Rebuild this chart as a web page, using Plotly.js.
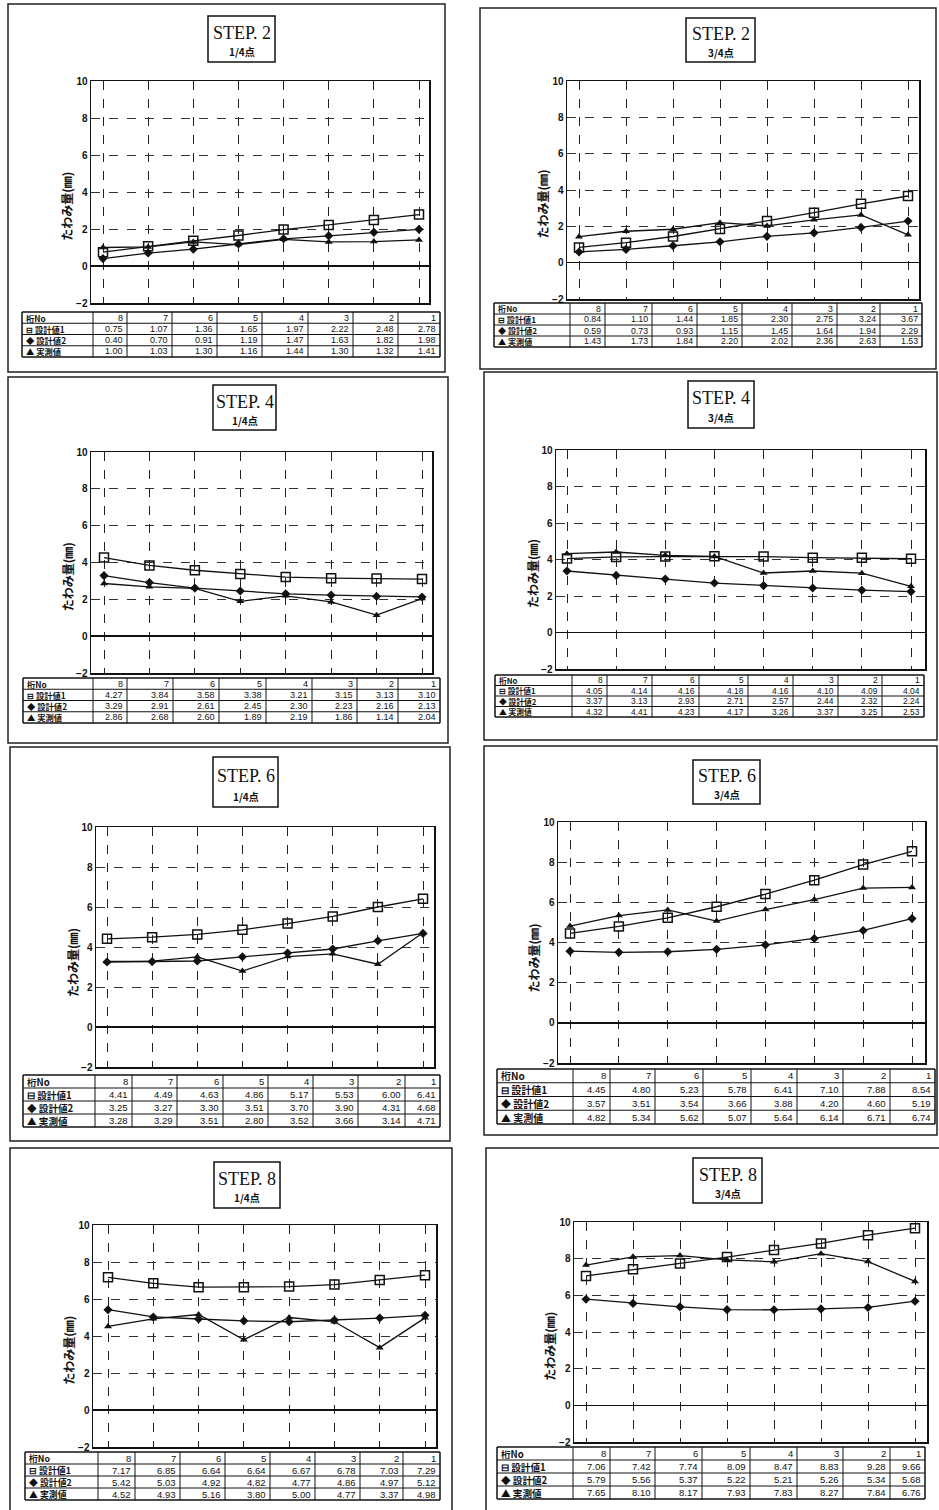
<!DOCTYPE html>
<html>
<head>
<meta charset="utf-8">
<script src="https://cdn.plot.ly/plotly-3.0.1.min.js"></script>
<style>html,body{margin:0;padding:0;background:#fff;}#chart{width:939px;height:1510px;}</style>
</head>
<body>
<div id="chart"></div>
<script>
// ---------- data ----------
const girders = ["8","7","6","5","4","3","2","1"];
const seriesNames = ["設計値1","設計値2","実測値"];
const rowLabels = ["⊟ 設計値1","◆ 設計値2","▲ 実測値"];
const headerFirst = "桁No";
const stepLabels = ["STEP. 2","STEP. 2","STEP. 4","STEP. 4","STEP. 6","STEP. 6","STEP. 8","STEP. 8"];
const pointLabels = ["1/4点","3/4点","1/4点","3/4点","1/4点","3/4点","1/4点","3/4点"];
const yTicks = [-2,0,2,4,6,8,10];
const yTitle = "たわみ量(㎜)";

const s2q1_d1 = [0.75,1.07,1.36,1.65,1.97,2.22,2.48,2.78];
const s2q1_d2 = [0.40,0.70,0.91,1.19,1.47,1.63,1.82,1.98];
const s2q1_m  = [1.00,1.03,1.30,1.16,1.44,1.30,1.32,1.41];

const s2q3_d1 = [0.84,1.10,1.44,1.85,2.30,2.75,3.24,3.67];
const s2q3_d2 = [0.59,0.73,0.93,1.15,1.45,1.64,1.94,2.29];
const s2q3_m  = [1.43,1.73,1.84,2.20,2.02,2.36,2.63,1.53];

const s4q1_d1 = [4.27,3.84,3.58,3.38,3.21,3.15,3.13,3.10];
const s4q1_d2 = [3.29,2.91,2.61,2.45,2.30,2.23,2.16,2.13];
const s4q1_m  = [2.86,2.68,2.60,1.89,2.19,1.86,1.14,2.04];

const s4q3_d1 = [4.05,4.14,4.16,4.18,4.16,4.10,4.09,4.04];
const s4q3_d2 = [3.37,3.13,2.93,2.71,2.57,2.44,2.32,2.24];
const s4q3_m  = [4.32,4.41,4.23,4.17,3.26,3.37,3.25,2.53];

const s6q1_d1 = [4.41,4.49,4.63,4.86,5.17,5.53,6.00,6.41];
const s6q1_d2 = [3.25,3.27,3.30,3.51,3.70,3.90,4.31,4.68];
const s6q1_m  = [3.28,3.29,3.51,2.80,3.52,3.66,3.14,4.71];

const s6q3_d1 = [4.45,4.80,5.23,5.78,6.41,7.10,7.88,8.54];
const s6q3_d2 = [3.57,3.51,3.54,3.66,3.88,4.20,4.60,5.19];
const s6q3_m  = [4.82,5.34,5.62,5.07,5.64,6.14,6.71,6.74];

const s8q1_d1 = [7.17,6.85,6.64,6.64,6.67,6.78,7.03,7.29];
const s8q1_d2 = [5.42,5.03,4.92,4.82,4.77,4.86,4.97,5.12];
const s8q1_m  = [4.52,4.93,5.16,3.80,5.00,4.77,3.37,4.98];

const s8q3_d1 = [7.06,7.42,7.74,8.09,8.47,8.83,9.28,9.66];
const s8q3_d2 = [5.79,5.56,5.37,5.22,5.21,5.26,5.34,5.68];
const s8q3_m  = [7.65,8.10,8.17,7.93,7.83,8.27,7.84,6.76];

const panelData = [
  [s2q1_d1,s2q1_d2,s2q1_m],[s2q3_d1,s2q3_d2,s2q3_m],
  [s4q1_d1,s4q1_d2,s4q1_m],[s4q3_d1,s4q3_d2,s4q3_m],
  [s6q1_d1,s6q1_d2,s6q1_m],[s6q3_d1,s6q3_d2,s6q3_m],
  [s8q1_d1,s8q1_d2,s8q1_m],[s8q3_d1,s8q3_d2,s8q3_m]
];

// ---------- geometry (pixels) ----------
const W = 939, H = 1510;
const geom = [
  {border:[8,4,445,372],   tbox:[208,16,275,62],    plot:[91,81,429,303],   g:[103,419], table:[22,312,357], cols:[93,127,172,217,262,308,353,398,440]},
  {border:[480,8,936,369], tbox:[686,18,755,62],    plot:[567,81,919,299],  g:[579,908], table:[494,303,347], cols:[570,605,652,697,742,792,837,880,922]},
  {border:[8,377,448,743], tbox:[213,385,276,430],  plot:[91,452,432,673],  g:[104,422], table:[23,678,723],  cols:[93,127,173,219,266,312,357,398,440]},
  {border:[484,372,937,740],tbox:[688,381,754,428], plot:[556,450,925,669],  g:[567,911], table:[495,675,717], cols:[572,607,652,699,748,793,838,882,924]},
  {border:[10,747,450,1141],tbox:[213,757,278,807], plot:[96,827,434,1067], g:[107,423], table:[23,1075,1127], cols:[95,132,177,223,268,313,358,405,440]},
  {border:[484,746,937,1135],tbox:[693,760,760,804],plot:[558,822,925,1063], g:[570,912], table:[497,1069,1124], cols:[573,610,655,703,751,797,843,890,935]},
  {border:[10,1148,452,1512],tbox:[214,1162,280,1208],plot:[93,1225,436,1447],g:[108,425], table:[25,1452,1500], cols:[98,135,180,225,270,315,360,403,440]},
  {border:[486,1148,940,1512],tbox:[693,1158,762,1203],plot:[574,1222,927,1442],g:[586,915], table:[497,1447,1499], cols:[573,610,655,702,750,797,843,890,925]}
];
const fx = x => x / W;
const fy = y => 1 - y / H;

const markerStyles = [
  {symbol:'square-open', size:9, color:'#111', line:{width:1.5,color:'#111'}},
  {symbol:'diamond', size:7, color:'#111'},
  {symbol:'triangle-up', size:7, color:'#111'}
];

const traces = [];
const layout = {
  width: W, height: H,
  margin:{l:0,r:0,t:0,b:0},
  paper_bgcolor:'#fff', plot_bgcolor:'#fff',
  showlegend:false,
  shapes:[], annotations:[]
};

function line(x0,y0,x1,y1,w){
  layout.shapes.push({type:'line', xref:'paper', yref:'paper',
    x0:fx(x0), x1:fx(x1), y0:fy(y0), y1:fy(y1), line:{color:'#111', width:w||1}});
}
function text(x,y,t,anchor,font){
  layout.annotations.push({xref:'paper', yref:'paper', x:fx(x), y:fy(y), text:t,
    showarrow:false, xanchor:anchor, yanchor:'middle', font:font});
}

geom.forEach((gm, i) => {
  const n = i + 1;
  const xa = 'x' + (n === 1 ? '' : n), ya = 'y' + (n === 1 ? '' : n);
  const [L,T,R,B] = gm.plot;
  const s = (gm.g[1] - gm.g[0]) / 7;
  const xr = [-(gm.g[0]-L)/s, 7 + (R-gm.g[1])/s];

  layout['xaxis' + (n === 1 ? '' : n)] = {
    domain:[fx(L), fx(R)], anchor: ya, type:'category',
    range: xr, showticklabels:false, ticks:'',
    showgrid:true, gridcolor:'#222', gridwidth:1, griddash:'dash',
    showline:true, mirror:true, linecolor:'#111', linewidth:1.5,
    fixedrange:true
  };
  layout['yaxis' + (n === 1 ? '' : n)] = {
    domain:[fy(B), fy(T)], anchor: xa,
    range:[-2,10], tickvals: yTicks, ticks:'',
    showgrid:true, gridcolor:'#333', gridwidth:1, griddash:'dash',
    zeroline:true, zerolinecolor:'#111', zerolinewidth:1.5,
    showline:true, mirror:true, linecolor:'#111', linewidth:1.5,
    tickfont:{family:'Liberation Sans, Arial', size:10, color:'#111', weight:'bold'},
    fixedrange:true
  };

  panelData[i].forEach((vals, k) => {
    traces.push({
      type:'scatter', mode:'lines+markers', name: seriesNames[k],
      x: girders, y: vals, xaxis: xa, yaxis: ya,
      line:{color:'#111', width:1.3},
      marker: markerStyles[k], cliponaxis:false
    });
  });

  // data table under the plot
  const [tx0,ty0,ty1] = gm.table;
  const bounds = gm.cols;
  const rh = (ty1 - ty0) / 4;
  const tx1 = bounds[bounds.length - 1];
  for (let r = 0; r <= 4; r++) line(tx0, ty0 + r*rh, tx1, ty0 + r*rh, (r === 0 || r === 4) ? 1.5 : 1);
  line(tx0, ty0, tx0, ty1, 1.5);
  bounds.forEach((bx, k) => line(bx, ty0, bx, ty1, k === bounds.length - 1 ? 1.5 : 1));
  const fLbl = {family:'Noto Sans CJK JP', size:Math.min(10, rh*0.74), color:'#111', weight:'bold'};
  const fNum = {family:'Liberation Sans, Arial', size:Math.min(9.5, rh*0.8), color:'#111'};
  text(tx0 + 2, ty0 + rh*0.5, headerFirst, 'left', fLbl);
  rowLabels.forEach((lb, r) => text(tx0 + 2, ty0 + rh*(r + 1.5), lb, 'left', fLbl));
  girders.forEach((g, j) => {
    const xr_ = bounds[j + 1] - 2;
    text(xr_, ty0 + rh*0.5, g, 'right', fNum);
    panelData[i].forEach((arr, r) => text(xr_, ty0 + rh*(r + 1.5), arr[j].toFixed(2), 'right', fNum));
  });

  // panel border
  const [bx0,by0,bx1,by1] = gm.border;
  layout.shapes.push({type:'rect', xref:'paper', yref:'paper',
    x0:fx(bx0), x1:fx(bx1), y0:fy(by1), y1:fy(by0),
    line:{color:'#222', width:1.5}});
  // title box
  const [qx0,qy0,qx1,qy1] = gm.tbox;
  layout.shapes.push({type:'rect', xref:'paper', yref:'paper',
    x0:fx(qx0), x1:fx(qx1), y0:fy(qy1), y1:fy(qy0),
    line:{color:'#111', width:1.5}});
  const cx = (qx0 + qx1) / 2;
  const hgt = qy1 - qy0;
  text(cx, qy0 + hgt*0.37, stepLabels[i], 'center',
    {family:'Liberation Serif, Times New Roman', size:18, color:'#111'});
  text(cx, qy0 + hgt*0.78, pointLabels[i], 'center',
    {family:'Noto Sans CJK JP', size:10, color:'#111', weight:'bold'});
  // y title
  const yc = T + (B - T) * (10 - 3.2) / 12;
  layout.annotations.push({xref:'paper', yref:'paper', x:fx(L - 24), y:fy(yc),
    text: yTitle, showarrow:false, textangle:-90, xanchor:'center', yanchor:'middle',
    font:{family:'Noto Sans CJK JP', size:12, color:'#111', weight:'bold'}});
});

Plotly.newPlot('chart', traces, layout, {staticPlot:true, displayModeBar:false});
</script>
</body>
</html>
